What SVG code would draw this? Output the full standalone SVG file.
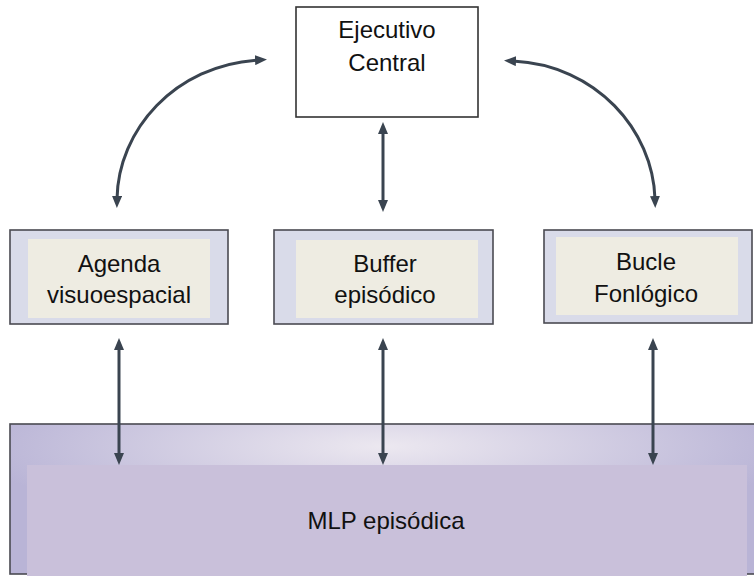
<svg xmlns="http://www.w3.org/2000/svg" width="754" height="579" viewBox="0 0 754 579">
<defs>
<style>
.t{font-family:"Liberation Sans",Arial,sans-serif;font-size:24px;fill:#111;text-anchor:middle}
.outer{fill:#d9dbe9;stroke:#4a4a52;stroke-width:1.6}
.inner{fill:#eeece2}
.conn{fill:none;stroke:#3a4450;stroke-width:3;marker-start:url(#ah);marker-end:url(#ah)}
</style>
<marker id="ah" viewBox="0 0 12 10" markerWidth="12" markerHeight="10" refX="3" refY="5" markerUnits="userSpaceOnUse" orient="auto-start-reverse">
<path d="M0,0 L12,5 L0,10 z" fill="#3a4450"/>
</marker>
<radialGradient id="mlpg" cx="0.5" cy="0.15" r="0.55" fx="0.5" fy="0.15">
<stop offset="0" stop-color="#ece8f0"/>
<stop offset="1" stop-color="#b9b4d6"/>
</radialGradient>
</defs>
<rect width="754" height="579" fill="#ffffff"/>

<g id="mlp">
<rect x="10" y="424" width="750" height="150" fill="url(#mlpg)" stroke="#4a4a52" stroke-width="1.6"/>
<rect x="27" y="465" width="720" height="111" fill="#c9c0da"/>
<text class="t" x="386" y="529">MLP episódica</text>
</g>

<g id="ejecutivo">
<rect x="296" y="7" width="182" height="110" fill="#ffffff" stroke="#333" stroke-width="1.6"/>
<text class="t" x="387" y="38">Ejecutivo</text>
<text class="t" x="387" y="71">Central</text>
</g>

<g id="agenda">
<rect class="outer" x="10" y="230" width="218" height="94"/>
<rect class="inner" x="28" y="239" width="182" height="79"/>
<text class="t" x="119" y="272">Agenda</text>
<text class="t" x="119" y="303">visuoespacial</text>
</g>

<g id="buffer">
<rect class="outer" x="274" y="230" width="219" height="94"/>
<rect class="inner" x="296" y="240" width="182" height="78"/>
<text class="t" x="385" y="272">Buffer</text>
<text class="t" x="385" y="303">episódico</text>
</g>

<g id="bucle">
<rect class="outer" x="544" y="230" width="208" height="93"/>
<rect class="inner" x="556" y="237" width="182" height="78"/>
<text class="t" x="646" y="270">Bucle</text>
<text class="t" x="646" y="302">Fonlógico</text>
</g>

<g id="connectors">
<path class="conn" d="M117,199 C118,130 175,65 258,60"/>
<path class="conn" d="M513,61 C596,65 653,130 655,199"/>
<path class="conn" d="M383,131 L383,203"/>
<path class="conn" d="M119,347 L119,456"/>
<path class="conn" d="M383,347 L383,456"/>
<path class="conn" d="M653,347 L653,456"/>
</g>
</svg>
